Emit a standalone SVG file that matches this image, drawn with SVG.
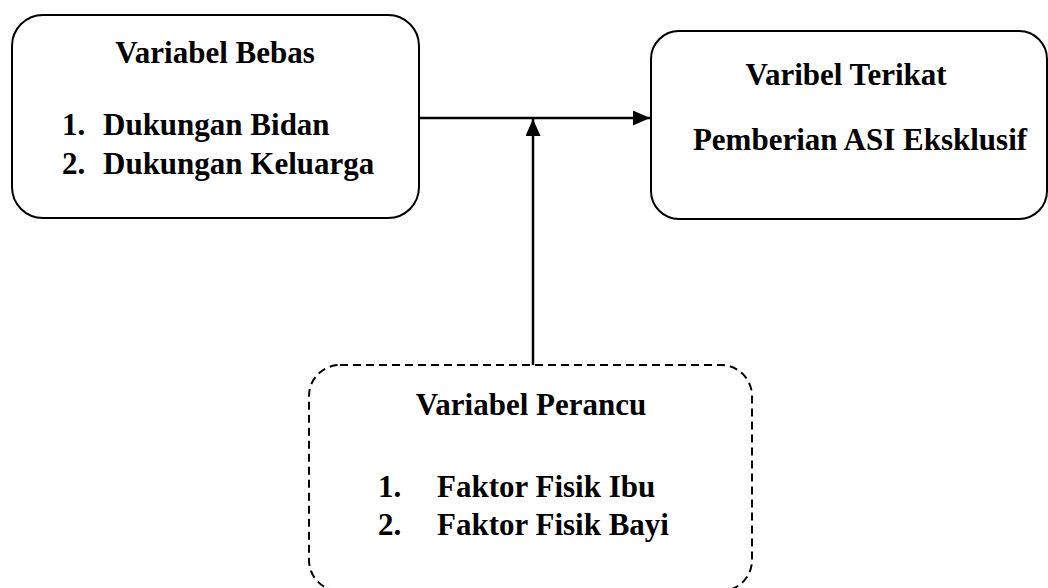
<svg xmlns="http://www.w3.org/2000/svg" width="1048" height="588" viewBox="0 0 1048 588">
<style>
.box{fill:#fff;stroke:#000;stroke-width:2}
.dash{fill:#fff;stroke:#000;stroke-width:2;stroke-dasharray:8 5}
.t{font-family:"Liberation Serif","Times New Roman",serif;font-weight:bold;font-size:31px;fill:#000}
.c{text-anchor:middle}
.ln{stroke:#000;stroke-width:2.5;fill:none}
</style>
<defs>
<marker id="ah" markerUnits="userSpaceOnUse" markerWidth="18" markerHeight="16" refX="17" refY="7.5" orient="auto">
<path d="M0,0 L17,7.5 L0,15 Z" fill="#000"/>
</marker>
</defs>
<rect width="1048" height="588" fill="#fff"/>
<g id="connectors">
<line class="ln" x1="419" y1="118" x2="650" y2="118" marker-end="url(#ah)"/>
<line class="ln" x1="533" y1="365" x2="533" y2="119" marker-end="url(#ah)"/>
</g>
<g id="bebas">
<rect class="box" x="12" y="15" width="407" height="203" rx="31" ry="31"/>
<text class="t c" x="215" y="63">Variabel Bebas</text>
<text class="t" x="62" y="135">1.</text>
<text class="t" x="103" y="135">Dukungan Bidan</text>
<text class="t" x="62" y="174">2.</text>
<text class="t" x="103" y="174">Dukungan Keluarga</text>
</g>
<g id="terikat">
<rect class="box" x="651" y="31" width="396" height="188" rx="28" ry="28"/>
<text class="t c" x="846" y="85">Varibel Terikat</text>
<text class="t c" x="860" y="150">Pemberian ASI Eksklusif</text>
</g>
<g id="perancu">
<rect class="dash" x="309" y="365" width="443" height="226" rx="31" ry="31"/>
<text class="t c" x="531" y="415">Variabel Perancu</text>
<text class="t" x="378" y="497">1.</text>
<text class="t" x="437" y="497">Faktor Fisik Ibu</text>
<text class="t" x="378" y="535">2.</text>
<text class="t" x="437" y="535">Faktor Fisik Bayi</text>
</g>
</svg>
